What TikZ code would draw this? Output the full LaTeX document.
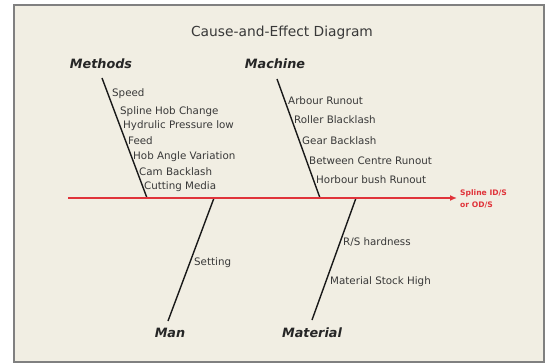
\documentclass[tikz,border=0pt]{standalone}
\usepackage{fontspec}
\setmainfont{DejaVu Sans}
\usetikzlibrary{arrows.meta}
\definecolor{bg}{HTML}{F1EEE3}
\definecolor{framegray}{HTML}{808080}
\definecolor{fishred}{HTML}{E0333A}
\definecolor{txt}{HTML}{383838}
\begin{document}
\begin{tikzpicture}[x=1pt,y=-1pt,
  titlestyle/.style={font=\fontsize{13.8}{15}\selectfont, text=txt, inner sep=0},
  catstyle/.style={font=\fontsize{12.8}{14}\selectfont\bfseries\itshape, text=black!85, inner sep=0},
  substyle/.style={font=\fontsize{10.3}{12}\selectfont, text=txt, anchor=west, inner sep=0},
  effectstyle/.style={font=\fontsize{7.6}{12}\selectfont\bfseries, text=fishred, anchor=west, align=left, inner sep=0},
  bone/.style={line width=1.4pt, black!90},
  spine/.style={line width=2.4pt, fishred}]
\useasboundingbox (0,0) rectangle (545,363);
\fill[bg] (14,5) rectangle (545,362);
\draw[framegray, line width=1.5pt] (544,5) rectangle (14,362);

\node[titlestyle] (title) at (282,33) {Cause-and-Effect Diagram};
\node[catstyle] (methods) at (101,64) {Methods};
\node[catstyle] (machine) at (275,64) {Machine};
\node[catstyle] (man) at (170,333) {Man};
\node[catstyle] (material) at (312,333) {Material};

\coordinate (spineL) at (68,198);
\coordinate (spineR) at (457,198);
\coordinate (metTop) at (102,78);
\coordinate (metBot) at (147,198);
\coordinate (macTop) at (277,79);
\coordinate (macBot) at (320,198);
\coordinate (manTop) at (214,198);
\coordinate (manBot) at (168,321);
\coordinate (matTop) at (356,198);
\coordinate (matBot) at (312,320);

\draw[bone] (metTop) -- (metBot);
\draw[bone] (macTop) -- (macBot);
\draw[bone] (manTop) -- (manBot);
\draw[bone] (matTop) -- (matBot);
\draw[spine, -{Latex[length=7pt,width=6pt]}] (spineL) -- (spineR);

\node[effectstyle] (effect) at (460,199) {Spline ID/S\\or OD/S};

\node[substyle] (m1) at (112,94) {Speed};
\node[substyle] (m2) at (120,112) {Spline Hob Change};
\node[substyle] (m3) at (123,126) {Hydrulic Pressure low};
\node[substyle] (m4) at (128,141) {Feed};
\node[substyle] (m5) at (133,157) {Hob Angle Variation};
\node[substyle] (m6) at (139,172) {Cam Backlash};
\node[substyle] (m7) at (144,187) {Cutting Media};

\node[substyle] (c1) at (288,101) {Arbour Runout};
\node[substyle] (c2) at (294,120) {Roller Blacklash};
\node[substyle] (c3) at (302,141) {Gear Backlash};
\node[substyle] (c4) at (309,161) {Between Centre Runout};
\node[substyle] (c5) at (316,180) {Horbour bush Runout};

\node[substyle] (s1) at (194,263) {Setting};
\node[substyle] (r1) at (343,242) {R/S hardness};
\node[substyle] (r2) at (330,282) {Material Stock High};
\end{tikzpicture}
\end{document}
